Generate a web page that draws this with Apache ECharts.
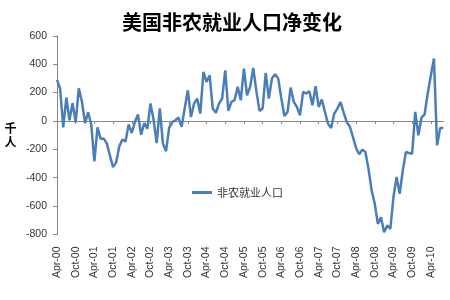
<!DOCTYPE html>
<html>
<head>
<meta charset="utf-8">
<script src="https://cdn.jsdelivr.net/npm/echarts@6/dist/echarts.min.js"></script>
<style>
html,body{margin:0;padding:0;background:#fff;}
#chart{width:450px;height:300px;}
</style>
</head>
<body>
<div id="chart"></div>
<script>
// Month categories Apr-00 .. Aug-10
var categories = [
  'Apr-00','May-00','Jun-00','Jul-00','Aug-00','Sep-00','Oct-00','Nov-00','Dec-00',
  'Jan-01','Feb-01','Mar-01','Apr-01','May-01','Jun-01','Jul-01','Aug-01','Sep-01','Oct-01','Nov-01','Dec-01',
  'Jan-02','Feb-02','Mar-02','Apr-02','May-02','Jun-02','Jul-02','Aug-02','Sep-02','Oct-02','Nov-02','Dec-02',
  'Jan-03','Feb-03','Mar-03','Apr-03','May-03','Jun-03','Jul-03','Aug-03','Sep-03','Oct-03','Nov-03','Dec-03',
  'Jan-04','Feb-04','Mar-04','Apr-04','May-04','Jun-04','Jul-04','Aug-04','Sep-04','Oct-04','Nov-04','Dec-04',
  'Jan-05','Feb-05','Mar-05','Apr-05','May-05','Jun-05','Jul-05','Aug-05','Sep-05','Oct-05','Nov-05','Dec-05',
  'Jan-06','Feb-06','Mar-06','Apr-06','May-06','Jun-06','Jul-06','Aug-06','Sep-06','Oct-06','Nov-06','Dec-06',
  'Jan-07','Feb-07','Mar-07','Apr-07','May-07','Jun-07','Jul-07','Aug-07','Sep-07','Oct-07','Nov-07','Dec-07',
  'Jan-08','Feb-08','Mar-08','Apr-08','May-08','Jun-08','Jul-08','Aug-08','Sep-08','Oct-08','Nov-08','Dec-08',
  'Jan-09','Feb-09','Mar-09','Apr-09','May-09','Jun-09','Jul-09','Aug-09','Sep-09','Oct-09','Nov-09','Dec-09',
  'Jan-10','Feb-10','Mar-10','Apr-10','May-10','Jun-10','Jul-10','Aug-10'
];

// 非农就业人口 monthly net change (thousands)
var payrolls = [
  290, 228, -46, 165, 5, 125, -10, 230, 135,
  -15, 61, -25, -285, -45, -125, -125, -160, -245, -325, -292, -178,
  -130, -145, -24, -85, -7, 46, -97, -15, -55, 124, 8, -156,
  89, -159, -213, -49, -8, 5, 24, -42, 90, 216, 28, 122,
  158, 52, 346, 275, 322, 87, 58, 122, 158, 356, 72, 134,
  146, 240, 146, 369, 181, 240, 374, 210, 71, 87, 339, 158,
  300, 330, 300, 160, 35, 64, 235, 134, 99, 40, 205, 193,
  210, 111, 245, 99, 151, 64, -20, -50, 52, 87, 134, 60,
  -7, -40, -113, -190, -235, -202, -219, -340, -489, -584, -725, -678,
  -784, -736, -760, -536, -395, -513, -348, -219, -226, -231, 64, -101,
  24, 47, 193, 320, 440, -172, -50, -50
];

var yTicks = { min: -800, max: 600, interval: 200 };
var titleText = '美国非农就业人口净变化';
var seriesName = '非农就业人口';
var yUnit = '千\n人';

var chart = echarts.init(document.getElementById('chart'), null, {renderer: 'canvas'});
var axisGray = '#868686';
var labelColor = '#333333';
var lineBlue = '#4A7EBB';

chart.setOption({
  animation: false,
  backgroundColor: '#ffffff',
  graphic: [
    { type: 'text', x: 232, y: 22,
      style: { text: titleText, fill: '#000', font: 'bold 20px "Noto Sans CJK SC"', textAlign: 'center', textVerticalAlign: 'middle' } },
    { type: 'text', x: 10.5, y: 135,
      style: { text: yUnit, fill: '#000', font: 'bold 12px "Noto Sans CJK SC"', lineHeight: 14, textAlign: 'center', textVerticalAlign: 'middle' } }
  ],
  legend: {
    left: 187, top: 182,
    itemWidth: 20, itemHeight: 3, itemGap: 5,
    icon: 'rect',
    textStyle: { fontFamily: '"Noto Sans CJK SC"', fontSize: 11, color: labelColor, padding: [0,0,0,0] },
    data: [seriesName]
  },
  grid: { left: 57, right: 6.7, top: 35.8, bottom: 65.5, containLabel: false },
  xAxis: [
    {
      type: 'category', data: categories, boundaryGap: false,
      axisLine: { show: true, onZero: true, lineStyle: { color: axisGray, width: 1 } },
      axisTick: { show: true, interval: 5, length: 3, lineStyle: { color: axisGray } },
      axisLabel: { show: false },
      splitLine: { show: false }
    },
    {
      type: 'category', data: categories, boundaryGap: false, position: 'bottom',
      axisLine: { show: false, onZero: false },
      axisTick: { show: false },
      axisLabel: { show: true, interval: 5, rotate: 90, margin: 12,
        fontFamily: '"Liberation Sans", Arial', fontSize: 10.5, color: labelColor },
      splitLine: { show: false }
    }
  ],
  yAxis: {
    type: 'value', min: yTicks.min, max: yTicks.max, interval: yTicks.interval,
    axisLine: { show: true, lineStyle: { color: axisGray, width: 1 } },
    axisTick: { show: true, length: 4, lineStyle: { color: axisGray } },
    axisLabel: { margin: 10, fontFamily: '"Liberation Sans", Arial', fontSize: 10.5, color: labelColor },
    splitLine: { show: false }
  },
  series: [{
    name: seriesName, type: 'line', xAxisIndex: 0, data: payrolls,
    showSymbol: false, symbol: 'none',
    lineStyle: { color: lineBlue, width: 2.5 },
    itemStyle: { color: lineBlue }
  }]
});
</script>
</body>
</html>
